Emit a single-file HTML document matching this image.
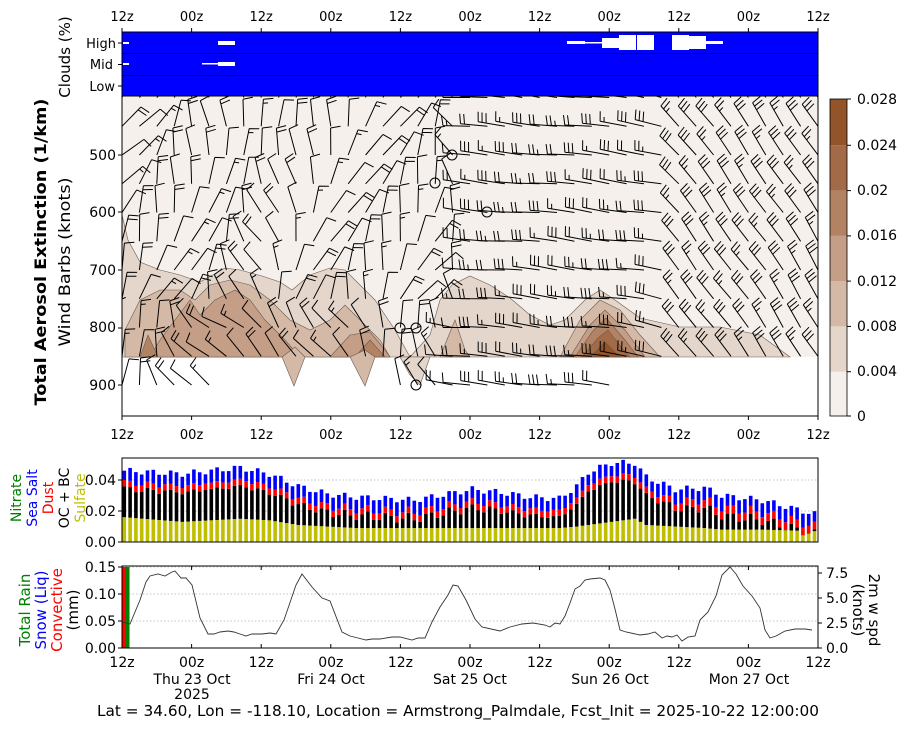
<!DOCTYPE html>
<html><head><meta charset="utf-8"><style>
html,body{margin:0;padding:0;background:#fff;}
svg{display:block;font-family:"DejaVu Sans","Liberation Sans",sans-serif;}
</style></head><body>
<svg id="s" width="909" height="730" viewBox="0 0 909 730" xmlns="http://www.w3.org/2000/svg">
<defs><clipPath id="mc"><rect x="122" y="96" width="696" height="320"/></clipPath></defs>
<rect x="122" y="32" width="696" height="64" fill="#0000ff" stroke="#000" stroke-width="1"/>
<line x1="122" y1="53.5" x2="818" y2="53.5" stroke="#000"/>
<line x1="122" y1="75.5" x2="818" y2="75.5" stroke="#000"/>
<g fill="#fff">
<rect x="123" y="42" width="6" height="2"/>
<rect x="218" y="41" width="17" height="4"/>
<rect x="567" y="41" width="18" height="3"/>
<rect x="585" y="42" width="17" height="1.5"/>
<rect x="602" y="38" width="17" height="10"/>
<rect x="619" y="35" width="17" height="15"/>
<rect x="637" y="35" width="17" height="15"/>
<rect x="672" y="35" width="17" height="15"/>
<rect x="689" y="36" width="17" height="13"/>
<rect x="706" y="41" width="17" height="3"/>
<rect x="123" y="63" width="6" height="2"/>
<rect x="202" y="63" width="16" height="1.5"/>
<rect x="218" y="62" width="17" height="4"/>
</g>
<g font-size="13" text-anchor="end" fill="#000">
<text x="116" y="48">High</text><text x="113" y="69">Mid</text><text x="115" y="91">Low</text>
</g>
<g stroke="#000"><line x1="118" y1="43" x2="122" y2="43"/><line x1="118" y1="64.5" x2="122" y2="64.5"/><line x1="118" y1="86" x2="122" y2="86"/></g>
<text transform="translate(70,57) rotate(-90)" font-size="15" text-anchor="middle">Clouds (%)</text>
<g id="toplab" font-size="13" text-anchor="middle"></g>

<rect x="122" y="96" width="696" height="320" fill="#fff"/>
<rect x="122" y="96" width="696" height="261" fill="#f5f0ec"/>
<g stroke="#6b5a50" stroke-width="0.6">
<polygon fill="#e4d6cb" points="122,215 128,240 140,262 160,270 180,275 200,282 225,268 240,270 262,276 280,282 292,290 310,275 330,268 345,270 360,285 375,300 395,330 410,357 430,335 440,300 452,285 470,276 490,285 510,298 530,315 550,325 565,320 585,300 600,290 615,300 640,318 680,327 720,327 760,335 790,357 122,357"/>
<polygon fill="#d3b9a6" points="125,330 140,300 160,290 180,290 195,300 210,285 230,280 250,285 270,300 290,320 310,330 330,320 345,305 360,320 380,340 390,357 125,357"/>
<polygon fill="#d3b9a6" points="560,357 580,320 600,300 620,310 640,335 660,357"/>
<polygon fill="#d3b9a6" points="440,357 455,320 465,350 470,357"/>
<polygon fill="#c49e86" points="150,357 160,340 175,320 190,300 200,315 215,300 235,290 250,300 265,320 285,340 300,357"/>
<polygon fill="#c49e86" points="330,357 350,335 370,332 385,350 390,357"/>
<polygon fill="#c49e86" points="570,357 590,325 605,310 625,330 645,357"/>
<polygon fill="#b28363" points="140,357 148,335 158,357"/>
<polygon fill="#b28363" points="355,357 370,340 385,357"/>
<polygon fill="#b28363" points="575,357 592,332 606,318 625,340 638,357"/>
<polygon fill="#a36a47" points="582,357 598,338 608,330 622,348 630,357"/>
<polygon fill="#925428" points="590,357 605,342 620,357"/>
<polygon fill="#d3b9a6" points="282,357 295,347 305,357 294,386"/>
<polygon fill="#d3b9a6" points="350,357 365,350 375,357 365,386"/>
<polygon fill="#e4d6cb" points="400,357 430,357 420,385 410,375"/>
</g>
<g id="barbs" stroke="#000" stroke-width="1" fill="none" clip-path="url(#mc)"></g>
<rect x="122" y="96" width="696" height="320" fill="none" stroke="#000"/>
<g id="ticks" stroke="#000"></g>
<g font-size="14" text-anchor="end">
<text x="116" y="160">500</text><text x="116" y="217">600</text><text x="116" y="275">700</text><text x="116" y="332">800</text><text x="116" y="390">900</text>
</g>
<text transform="translate(46,252) rotate(-90)" font-size="16" font-weight="bold" text-anchor="middle" textLength="307" lengthAdjust="spacingAndGlyphs">Total Aerosol Extinction (1/km)</text>
<text transform="translate(70,262) rotate(-90)" font-size="16" text-anchor="middle" textLength="169" lengthAdjust="spacingAndGlyphs">Wind Barbs (knots)</text>
<g id="midlab" font-size="13" text-anchor="middle"></g>

<rect x="830" y="371.7" width="17" height="44.3" fill="#f5f0ec"/>
<rect x="830" y="326.4" width="17" height="45.3" fill="#e4d6cb"/>
<rect x="830" y="281.1" width="17" height="45.3" fill="#d4b9a6"/>
<rect x="830" y="235.9" width="17" height="45.3" fill="#c49e86"/>
<rect x="830" y="190.6" width="17" height="45.3" fill="#b28363"/>
<rect x="830" y="145.3" width="17" height="45.3" fill="#a36a47"/>
<rect x="830" y="99" width="17" height="46.3" fill="#925428"/>
<rect x="830" y="99" width="17" height="317" fill="none" stroke="#000" stroke-width="0.8"/>
<g stroke="#000"><line x1="847" y1="99" x2="851" y2="99"/><line x1="847" y1="145.3" x2="851" y2="145.3"/><line x1="847" y1="190.6" x2="851" y2="190.6"/><line x1="847" y1="235.9" x2="851" y2="235.9"/><line x1="847" y1="281.1" x2="851" y2="281.1"/><line x1="847" y1="326.4" x2="851" y2="326.4"/><line x1="847" y1="371.7" x2="851" y2="371.7"/><line x1="847" y1="416" x2="851" y2="416"/></g>
<g font-size="14">
<text x="857" y="104">0.028</text><text x="857" y="150">0.024</text><text x="857" y="195">0.02</text><text x="857" y="240">0.016</text><text x="857" y="286">0.012</text><text x="857" y="331">0.008</text><text x="857" y="376">0.004</text><text x="857" y="421">0</text>
</g>

<g stroke="#b0b0b0" stroke-dasharray="1.5,2" stroke-width="0.8">
<line x1="122" y1="480" x2="818" y2="480"/><line x1="122" y1="511" x2="818" y2="511"/>
</g>
<g id="bars"></g>
<rect x="122" y="458" width="696" height="84" fill="none" stroke="#000"/>
<g stroke="#000"><line x1="118" y1="480" x2="122" y2="480"/><line x1="118" y1="511" x2="122" y2="511"/><line x1="118" y1="542" x2="122" y2="542"/></g>
<g font-size="14" text-anchor="end"><text x="116" y="485">0.04</text><text x="116" y="516">0.02</text><text x="116" y="547">0.00</text></g>
<g font-size="14" text-anchor="middle">
<text transform="translate(21,498) rotate(-90)" fill="#008000">Nitrate</text>
<text transform="translate(37,498) rotate(-90)" fill="#0000ff">Sea Salt</text>
<text transform="translate(53,498) rotate(-90)" fill="#ff0000">Dust</text>
<text transform="translate(69,498) rotate(-90)" fill="#000">OC + BC</text>
<text transform="translate(85,498) rotate(-90)" fill="#bfbf00">Sulfate</text>
</g>

<g stroke="#b0b0b0" stroke-dasharray="1.5,2" stroke-width="0.8">
<line x1="122" y1="567" x2="818" y2="567"/><line x1="122" y1="594" x2="818" y2="594"/><line x1="122" y1="621" x2="818" y2="621"/>
</g>
<rect x="122" y="567" width="3.5" height="81" fill="#ff0000"/>
<rect x="125.5" y="567" width="4" height="81" fill="#008000"/>
<polyline fill="none" stroke="#333" stroke-width="0.9" points="122,622 130,624 140,600 146,582 150,576 158,574 165,576 172,572 175,571 181,578 186,578 192,585 200,618 208,634 214,634 220,632 228,631 234,632 240,634 246,636 252,634 262,634 270,633 276,634 284,620 296,585 302,574 312,587 322,598 330,601 342,632 350,636 358,638 366,640 372,639 380,639 392,637 400,637 412,640 418,638 425,638 432,622 440,607 448,595 453,585 458,586 466,600 475,619 482,627 500,631 510,627 522,624 533,623 545,625 550,627 555,623 560,624 565,616 570,603 575,589 580,586 585,580 590,579 600,578 605,580 610,590 615,609 620,630 626,632 640,635 648,634 655,632 662,638 667,636 672,637 677,635 682,641 688,637 695,636 700,620 708,612 716,596 722,575 730,567 736,574 743,586 752,596 760,608 765,630 770,638 776,636 785,631 795,629 805,629 812,630"/>
<rect x="122" y="566" width="696" height="82" fill="none" stroke="#000"/>
<g stroke="#000"><line x1="118" y1="567" x2="122" y2="567"/><line x1="118" y1="594" x2="122" y2="594"/><line x1="118" y1="621" x2="122" y2="621"/><line x1="118" y1="648" x2="122" y2="648"/>
<line x1="818" y1="573" x2="822" y2="573"/><line x1="818" y1="598" x2="822" y2="598"/><line x1="818" y1="623" x2="822" y2="623"/><line x1="818" y1="648" x2="822" y2="648"/></g>
<g font-size="14" text-anchor="end"><text x="116" y="572">0.15</text><text x="116" y="599">0.10</text><text x="116" y="626">0.05</text><text x="116" y="653">0.00</text></g>
<g font-size="14"><text x="826" y="578">7.5</text><text x="826" y="603">5.0</text><text x="826" y="628">2.5</text><text x="826" y="653">0.0</text></g>
<g font-size="15" text-anchor="middle">
<text transform="translate(30,610) rotate(-90)" fill="#008000">Total Rain</text>
<text transform="translate(46,610) rotate(-90)" fill="#0000ff">Snow (Liq)</text>
<text transform="translate(62,610) rotate(-90)" fill="#ff0000">Convective</text>
<text transform="translate(78,610) rotate(-90)" fill="#000">(mm)</text>
<text transform="translate(869,610) rotate(90)">2m w spd</text>
<text transform="translate(853,610) rotate(90)">(knots)</text>
</g>
<g id="botlab" font-size="14" text-anchor="middle"></g>
<g font-size="14" text-anchor="middle">
<text x="192" y="684">Thu 23 Oct</text><text x="192" y="699">2025</text>
<text x="331" y="684">Fri 24 Oct</text><text x="470" y="684">Sat 25 Oct</text>
<text x="610" y="684">Sun 26 Oct</text><text x="749" y="684">Mon 27 Oct</text>
</g>
<text x="458" y="716" font-size="15.3" text-anchor="middle" textLength="722" lengthAdjust="spacingAndGlyphs">Lat = 34.60, Lon = -118.10, Location = Armstrong_Palmdale, Fcst_Init = 2025-10-22 12:00:00</text>
</svg>
<script>
(function(){
var NS="http://www.w3.org/2000/svg";
function el(p,t,a){var e=document.createElementNS(NS,t);for(var k in a)e.setAttribute(k,a[k]);p.appendChild(e);return e;}
var labs=["12z","00z","12z","00z","12z","00z","12z","00z","12z","00z","12z"];
var tg=document.getElementById("ticks");
var tl=document.getElementById("toplab"),ml=document.getElementById("midlab"),bl=document.getElementById("botlab");
var S=document.getElementById("s");
for(var i=0;i<11;i++){var x=122+i*69.6;
 el(tl,"text",{x:x,y:21}).textContent=labs[i];
 el(ml,"text",{x:x,y:439}).textContent=labs[i];
 el(bl,"text",{x:x,y:667}).textContent=labs[i];
 el(tg,"line",{x1:x,y1:28,x2:x,y2:32});
 el(tg,"line",{x1:x,y1:416,x2:x,y2:420});
 el(S,"line",{x1:x,y1:566,x2:x,y2:570,stroke:"#000"});
 el(S,"line",{x1:x,y1:648,x2:x,y2:644,stroke:"#000"});
}
[155,212,270,328,385].forEach(function(y){el(tg,"line",{x1:118,y1:y,x2:122,y2:y});});
function interp(kp,h){for(var i=0;i<kp.length-1;i++){if(h>=kp[i][0]&&h<=kp[i+1][0]){var t=(h-kp[i][0])/(kp[i+1][0]-kp[i][0]);return [kp[i][1]+t*(kp[i+1][1]-kp[i][1]),kp[i][2]+t*(kp[i+1][2]-kp[i][2])];}}return [kp[kp.length-1][1],kp[kp.length-1][2]];}
var kp=[[0,.046,.016],[10,.044,.013],[20,.048,.015],[25,.044,.014],[30,.036,.011],[35,.031,.010],[40,.029,.009],[50,.027,.009],[60,.034,.009],[65,.032,.009],[70,.029,.009],[75,.028,.009],[78,.036,.010],[80,.045,.011],[84,.051,.013],[88,.051,.015],[90,.042,.011],[95,.034,.010],[100,.035,.009],[103,.030,.008],[110,.027,.008],[119,.018,.007]];
var bg=document.getElementById("bars");
function Y(q){return 542-q*1550;}
for(var h=0;h<120;h++){var x=122.5+h*5.8;var v=interp(kp,h);var T=v[0]+0.002*Math.sin(h*1.7),Sv=v[1];
 var blue=0.006+0.003*Math.abs(Math.sin(h*0.9)),red=h>95?0.005:0.004;
 var w=3.6;
 el(bg,"rect",{x:x,y:Y(Sv),width:w,height:Sv*1550,fill:"#bfbf00"});
 var bt=T-blue-red;
 el(bg,"rect",{x:x,y:Y(bt),width:w,height:(bt-Sv)*1550,fill:"#000"});
 el(bg,"rect",{x:x,y:Y(bt+red),width:w,height:red*1550,fill:"#ff0000"});
 el(bg,"rect",{x:x,y:Y(T),width:w,height:blue*1550,fill:"#0000ff"});
}
var bgp=document.getElementById("barbs");
var akp=[[122,-60],[200,-80],[260,-110],[320,-75],[440,-65],[470,-175],[660,-172],[680,-128],[818,-122]];
function ang(x){for(var i=0;i<akp.length-1;i++){if(x>=akp[i][0]&&x<=akp[i+1][0]){var t=(x-akp[i][0])/(akp[i+1][0]-akp[i][0]);return akp[i][1]+t*(akp[i+1][1]-akp[i][1]);}}return -122;}
for(var c=0;c<41;c++){var x=122+c*17.4;
 for(var k=0;k<20;k++){var y=97.5+k*28.75;
  if(y>357){ if(!((x<215&&y<400)||(x>400&&x<620&&y<400)))continue; }
  if(y>416)continue;
  var a=ang(x)+25*Math.sin(x*0.05+k*0.8)*(x<460?1:0.2)+(y>300&&x<460?-40:0);
  var r=a*Math.PI/180,L=27;
  var ex=x+L*Math.cos(r),ey=y+L*Math.sin(r);
  var d="M"+x.toFixed(1)+" "+y.toFixed(1)+"L"+ex.toFixed(1)+" "+ey.toFixed(1);
  var n=x>660?3:(x>470?2+(c+k)%2:1+(c*3+k)%2);
  var fr=(a+80)*Math.PI/180;
  for(var f=0;f<n;f++){var bx=x+(L-f*4)*Math.cos(r),by=y+(L-f*4)*Math.sin(r);var fl=(f==n-1&&n>1&&(c+k)%3==0)?5:10;
   d+="M"+bx.toFixed(1)+" "+by.toFixed(1)+"L"+(bx+fl*Math.cos(fr)).toFixed(1)+" "+(by+fl*Math.sin(fr)).toFixed(1);}
  el(bgp,"path",{d:d});
 }}
[[435,183],[452,155],[487,212],[400,328],[416,328],[416,385]].forEach(function(p){el(bgp,"circle",{cx:p[0],cy:p[1],r:5});});
})();
</script>
</body></html>
